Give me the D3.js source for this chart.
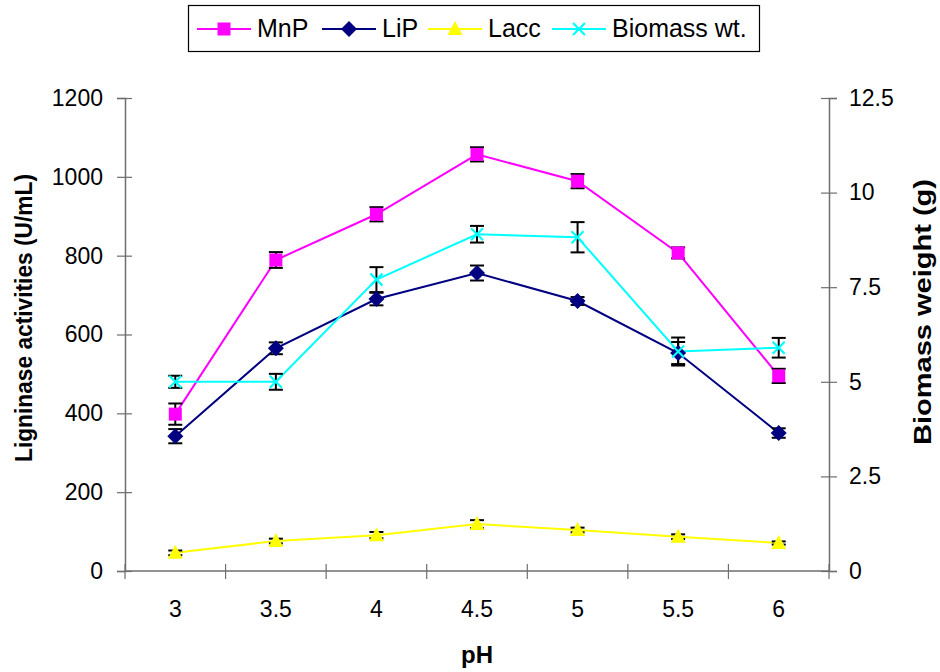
<!DOCTYPE html>
<html lang="en">
<head>
<meta charset="UTF-8">
<title>pH chart</title>
<script src="https://d3js.org/d3.v7.min.js"></script>
<style>
  body { margin: 0; background: #fff; }
  text { font-family: "Liberation Sans", Arial, sans-serif; }
</style>
</head>
<body>
<script>
// data
var ph = ["3", "3.5", "4", "4.5", "5", "5.5", "6"];
var mnp = [398, 789, 905, 1057, 989, 807, 495];
var mnpErr = [27, 20, 18, 18, 18, 14, 18];
var lip = [342, 565, 690, 756, 685, 553, 350];
var lipErr = [18, 15, 16, 19, 10, 28, 12];
var lacc = [46, 76, 91, 119, 104, 87, 71];
var laccErr = [6, 6, 8, 10, 6, 6, 4];
var biomass = [5.0, 5.0, 7.7, 8.9, 8.82, 5.8, 5.9];
var biomassErr = [0.16, 0.21, 0.33, 0.22, 0.4, 0.37, 0.26];
var leftTicks = [0, 200, 400, 600, 800, 1000, 1200];
var rightTicks = [0, 2.5, 5, 7.5, 10, 12.5];

var width = 940, height = 672;
var plotLeft = 125, plotRight = 829, plotTop = 98, plotBottom = 571;

var svg = d3.select('body').append('svg').attr('width', width).attr('height', height);

var x = d3.scaleBand().domain(ph).range([plotLeft, plotRight]);
var yL = d3.scaleLinear().domain([0, 1200]).range([plotBottom, plotTop]);
var yR = d3.scaleLinear().domain([0, 12.5]).range([plotBottom, plotTop]);
function cx(i) { return x(ph[i]) + x.bandwidth() / 2; }

var axisColor = '#6e6e6e';

// left axis
var gL = svg.append('g').attr('transform', 'translate(' + plotLeft + ',0)')
    .call(d3.axisLeft(yL).tickValues(leftTicks).tickSize(8).tickPadding(14)
        .tickFormat(d3.format('d')));
gL.select('.domain').attr('stroke', axisColor).attr('stroke-width', 1.5);
gL.selectAll('.tick line').attr('stroke', axisColor).attr('x1', 7).attr('stroke-width', 1.2);
gL.selectAll('.tick text').attr('font-size', 23).attr('fill', '#000');

// right axis
var gR = svg.append('g').attr('transform', 'translate(' + plotRight + ',0)')
    .call(d3.axisRight(yR).tickValues(rightTicks).tickSize(8).tickPadding(12)
        .tickFormat(function (d) { return String(d); }));
gR.select('.domain').attr('stroke', axisColor).attr('stroke-width', 1.5);
gR.selectAll('.tick line').attr('stroke', axisColor).attr('x1', -8).attr('stroke-width', 1.2);
gR.selectAll('.tick text').attr('font-size', 23).attr('fill', '#000');

// x axis: ticks sit between categories
var gX = svg.append('g');
gX.append('line').attr('x1', plotLeft).attr('x2', plotRight).attr('y1', plotBottom).attr('y2', plotBottom)
    .attr('stroke', axisColor).attr('stroke-width', 1.5);
var edges = ph.map(function (d) { return x(d); }).concat([plotRight]);
gX.selectAll('line.xt').data(edges).join('line').attr('class', 'xt')
    .attr('x1', function (d) { return d; }).attr('x2', function (d) { return d; })
    .attr('y1', plotBottom - 7).attr('y2', plotBottom + 8)
    .attr('stroke', axisColor).attr('stroke-width', 1.2);
gX.selectAll('text').data(ph).join('text')
    .attr('x', function (d) { return x(d) + x.bandwidth() / 2; })
    .attr('y', 617).attr('text-anchor', 'middle').attr('font-size', 23)
    .text(function (d) { return d; });

// axis titles
svg.append('text').attr('x', 477).attr('y', 663).attr('text-anchor', 'middle')
    .attr('font-size', 24).attr('font-weight', 'bold').text('pH');
svg.append('text').attr('transform', 'translate(32,318) rotate(-90)')
    .attr('text-anchor', 'middle').attr('font-size', 23).attr('font-weight', 'bold')
    .attr('textLength', 288).attr('lengthAdjust', 'spacingAndGlyphs')
    .text('Ligninase activities (U/mL)');
svg.append('text').attr('transform', 'translate(931,312) rotate(-90)')
    .attr('text-anchor', 'middle').attr('font-size', 23).attr('font-weight', 'bold')
    .attr('textLength', 266).attr('lengthAdjust', 'spacingAndGlyphs')
    .text('Biomass weight (g)');

var series = [
    { name: 'MnP', vals: mnp, err: mnpErr, y: yL, color: '#ff00ff', shape: 'square' },
    { name: 'LiP', vals: lip, err: lipErr, y: yL, color: '#000080', shape: 'diamond' },
    { name: 'Lacc', vals: lacc, err: laccErr, y: yL, color: '#ffff00', shape: 'triangle' },
    { name: 'Biomass wt.', vals: biomass, err: biomassErr, y: yR, color: '#00ffff', shape: 'cross' }
];

function drawMarker(g, shape, color, px, py) {
    if (shape === 'square') {
        g.append('rect').attr('x', px - 6.5).attr('y', py - 6.5).attr('width', 13).attr('height', 13)
            .attr('fill', color);
    } else if (shape === 'diamond') {
        g.append('path').attr('d', 'M' + px + ',' + (py - 8) + 'L' + (px + 8) + ',' + py +
            'L' + px + ',' + (py + 8) + 'L' + (px - 8) + ',' + py + 'Z').attr('fill', color);
    } else if (shape === 'triangle') {
        g.append('path').attr('d', 'M' + px + ',' + (py - 8) + 'L' + (px + 7.5) + ',' + (py + 6) +
            'L' + (px - 7.5) + ',' + (py + 6) + 'Z').attr('fill', color);
    } else {
        g.append('path').attr('d', 'M' + (px - 6) + ',' + (py - 6) + 'L' + (px + 6) + ',' + (py + 6) +
            'M' + (px - 6) + ',' + (py + 6) + 'L' + (px + 6) + ',' + (py - 6))
            .attr('stroke', color).attr('stroke-width', 2.2).attr('fill', 'none');
    }
}

var plot = svg.append('g');
// lines
series.forEach(function (s) {
    var line = d3.line().x(function (d, i) { return cx(i); }).y(function (d) { return s.y(d); });
    plot.append('path').datum(s.vals).attr('d', line).attr('fill', 'none')
        .attr('stroke', s.color).attr('stroke-width', 2);
});
// error bars
series.forEach(function (s) {
    s.vals.forEach(function (v, i) {
        var px = cx(i), y1 = s.y(v + s.err[i]), y2 = s.y(v - s.err[i]);
        var eb = plot.append('g').attr('stroke', '#000').attr('stroke-width', 2);
        eb.append('line').attr('x1', px).attr('x2', px).attr('y1', y1).attr('y2', y2);
        eb.append('line').attr('x1', px - 7).attr('x2', px + 7).attr('y1', y1).attr('y2', y1);
        eb.append('line').attr('x1', px - 7).attr('x2', px + 7).attr('y1', y2).attr('y2', y2);
    });
});
// markers
series.forEach(function (s) {
    s.vals.forEach(function (v, i) {
        drawMarker(plot, s.shape, s.color, cx(i), s.y(v));
    });
});

// legend
var lg = svg.append('g');
lg.append('rect').attr('x', 188.5).attr('y', 5.5).attr('width', 571).attr('height', 46)
    .attr('fill', '#fff').attr('stroke', '#000').attr('stroke-width', 1.2);
var legX = [197, 322, 428, 552];
series.forEach(function (s, i) {
    var lx = legX[i];
    lg.append('line').attr('x1', lx).attr('x2', lx + 54).attr('y1', 29).attr('y2', 29)
        .attr('stroke', s.color).attr('stroke-width', 2);
    drawMarker(lg, s.shape, s.color, lx + 27, 29);
    lg.append('text').attr('x', lx + 60).attr('y', 37).attr('font-size', 25).text(s.name);
});
</script>
</body>
</html>
